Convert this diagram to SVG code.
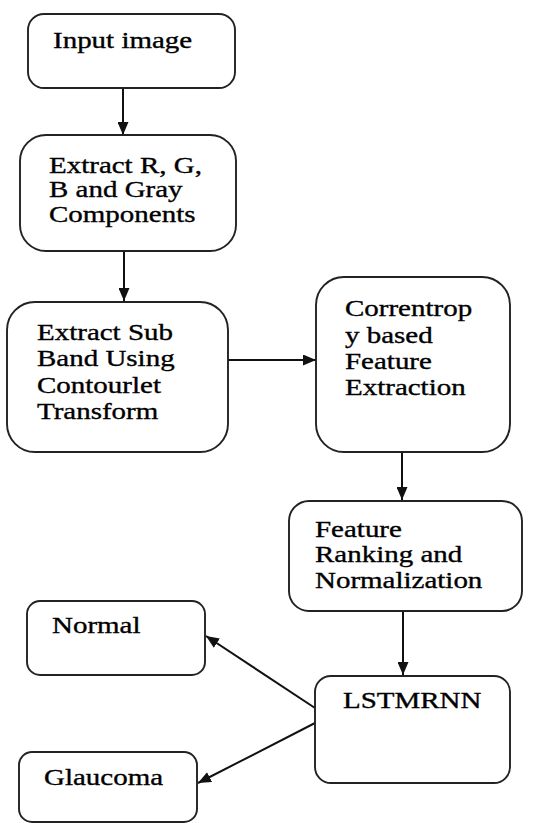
<svg xmlns="http://www.w3.org/2000/svg" width="539" height="823" viewBox="0 0 539 823">
<style>
.box{fill:#fff;stroke:#222;stroke-width:1.9}
.lbl{font-family:"Liberation Serif","Times New Roman",serif;font-size:23px;fill:#000;stroke:#000;stroke-width:0.35}
.edge{stroke:#111;stroke-width:2;fill:none;marker-end:url(#ah)}
</style>
<defs>
<marker id="ah" viewBox="0 0 13 11" refX="13" refY="5.5" markerWidth="13" markerHeight="11" markerUnits="userSpaceOnUse" orient="auto">
<path d="M0,0 L13,5.5 L0,11 z" fill="#111"/>
</marker>
</defs>
<rect width="539" height="823" fill="#fff"/>
<g id="connectors">
<line class="edge" x1="123" y1="88" x2="123" y2="135"/>
<line class="edge" x1="124" y1="251" x2="124" y2="301"/>
<line class="edge" x1="228" y1="360" x2="316" y2="360"/>
<line class="edge" x1="402" y1="452" x2="402" y2="500"/>
<line class="edge" x1="403" y1="611" x2="403" y2="675"/>
<line class="edge" x1="315" y1="708" x2="206" y2="636"/>
<line class="edge" x1="315" y1="723" x2="198" y2="783"/>
</g>
<g id="n_input">
<rect class="box" x="28" y="14" width="207" height="74" rx="16"/>
<text class="lbl" transform="translate(53,48) scale(1.26,1)">Input image</text>
</g>
<g id="n_extract_rgb">
<rect class="box" x="20" y="135" width="216" height="116" rx="26"/>
<text class="lbl" transform="translate(49,173) scale(1.26,1)">Extract R, G,</text>
<text class="lbl" transform="translate(49,197) scale(1.26,1)">B and Gray</text>
<text class="lbl" transform="translate(49,222) scale(1.26,1)">Components</text>
</g>
<g id="n_subband">
<rect class="box" x="7" y="302" width="221" height="150" rx="28"/>
<text class="lbl" transform="translate(37,340) scale(1.26,1)">Extract Sub</text>
<text class="lbl" transform="translate(37,366) scale(1.26,1)">Band Using</text>
<text class="lbl" transform="translate(37,393) scale(1.26,1)">Contourlet</text>
<text class="lbl" transform="translate(37,419) scale(1.26,1)">Transform</text>
</g>
<g id="n_correntropy">
<rect class="box" x="316" y="277" width="194" height="175" rx="28"/>
<text class="lbl" transform="translate(345,316) scale(1.26,1)">Correntrop</text>
<text class="lbl" transform="translate(345,343) scale(1.26,1)">y based</text>
<text class="lbl" transform="translate(345,369) scale(1.26,1)">Feature</text>
<text class="lbl" transform="translate(345,395) scale(1.26,1)">Extraction</text>
</g>
<g id="n_ranking">
<rect class="box" x="289" y="501" width="233" height="110" rx="20"/>
<text class="lbl" transform="translate(315,537) scale(1.26,1)">Feature</text>
<text class="lbl" transform="translate(315,562) scale(1.26,1)">Ranking and</text>
<text class="lbl" transform="translate(315,588) scale(1.26,1)">Normalization</text>
</g>
<g id="n_lstmrnn">
<rect class="box" x="315" y="676" width="195" height="107" rx="16"/>
<text class="lbl" transform="translate(343,708) scale(1.26,1)">LSTMRNN</text>
</g>
<g id="n_normal">
<rect class="box" x="27" y="601" width="178" height="74" rx="13"/>
<text class="lbl" transform="translate(52,633) scale(1.26,1)">Normal</text>
</g>
<g id="n_glaucoma">
<rect class="box" x="19" y="752" width="178" height="70" rx="13"/>
<text class="lbl" transform="translate(44,785) scale(1.26,1)">Glaucoma</text>
</g>
</svg>
